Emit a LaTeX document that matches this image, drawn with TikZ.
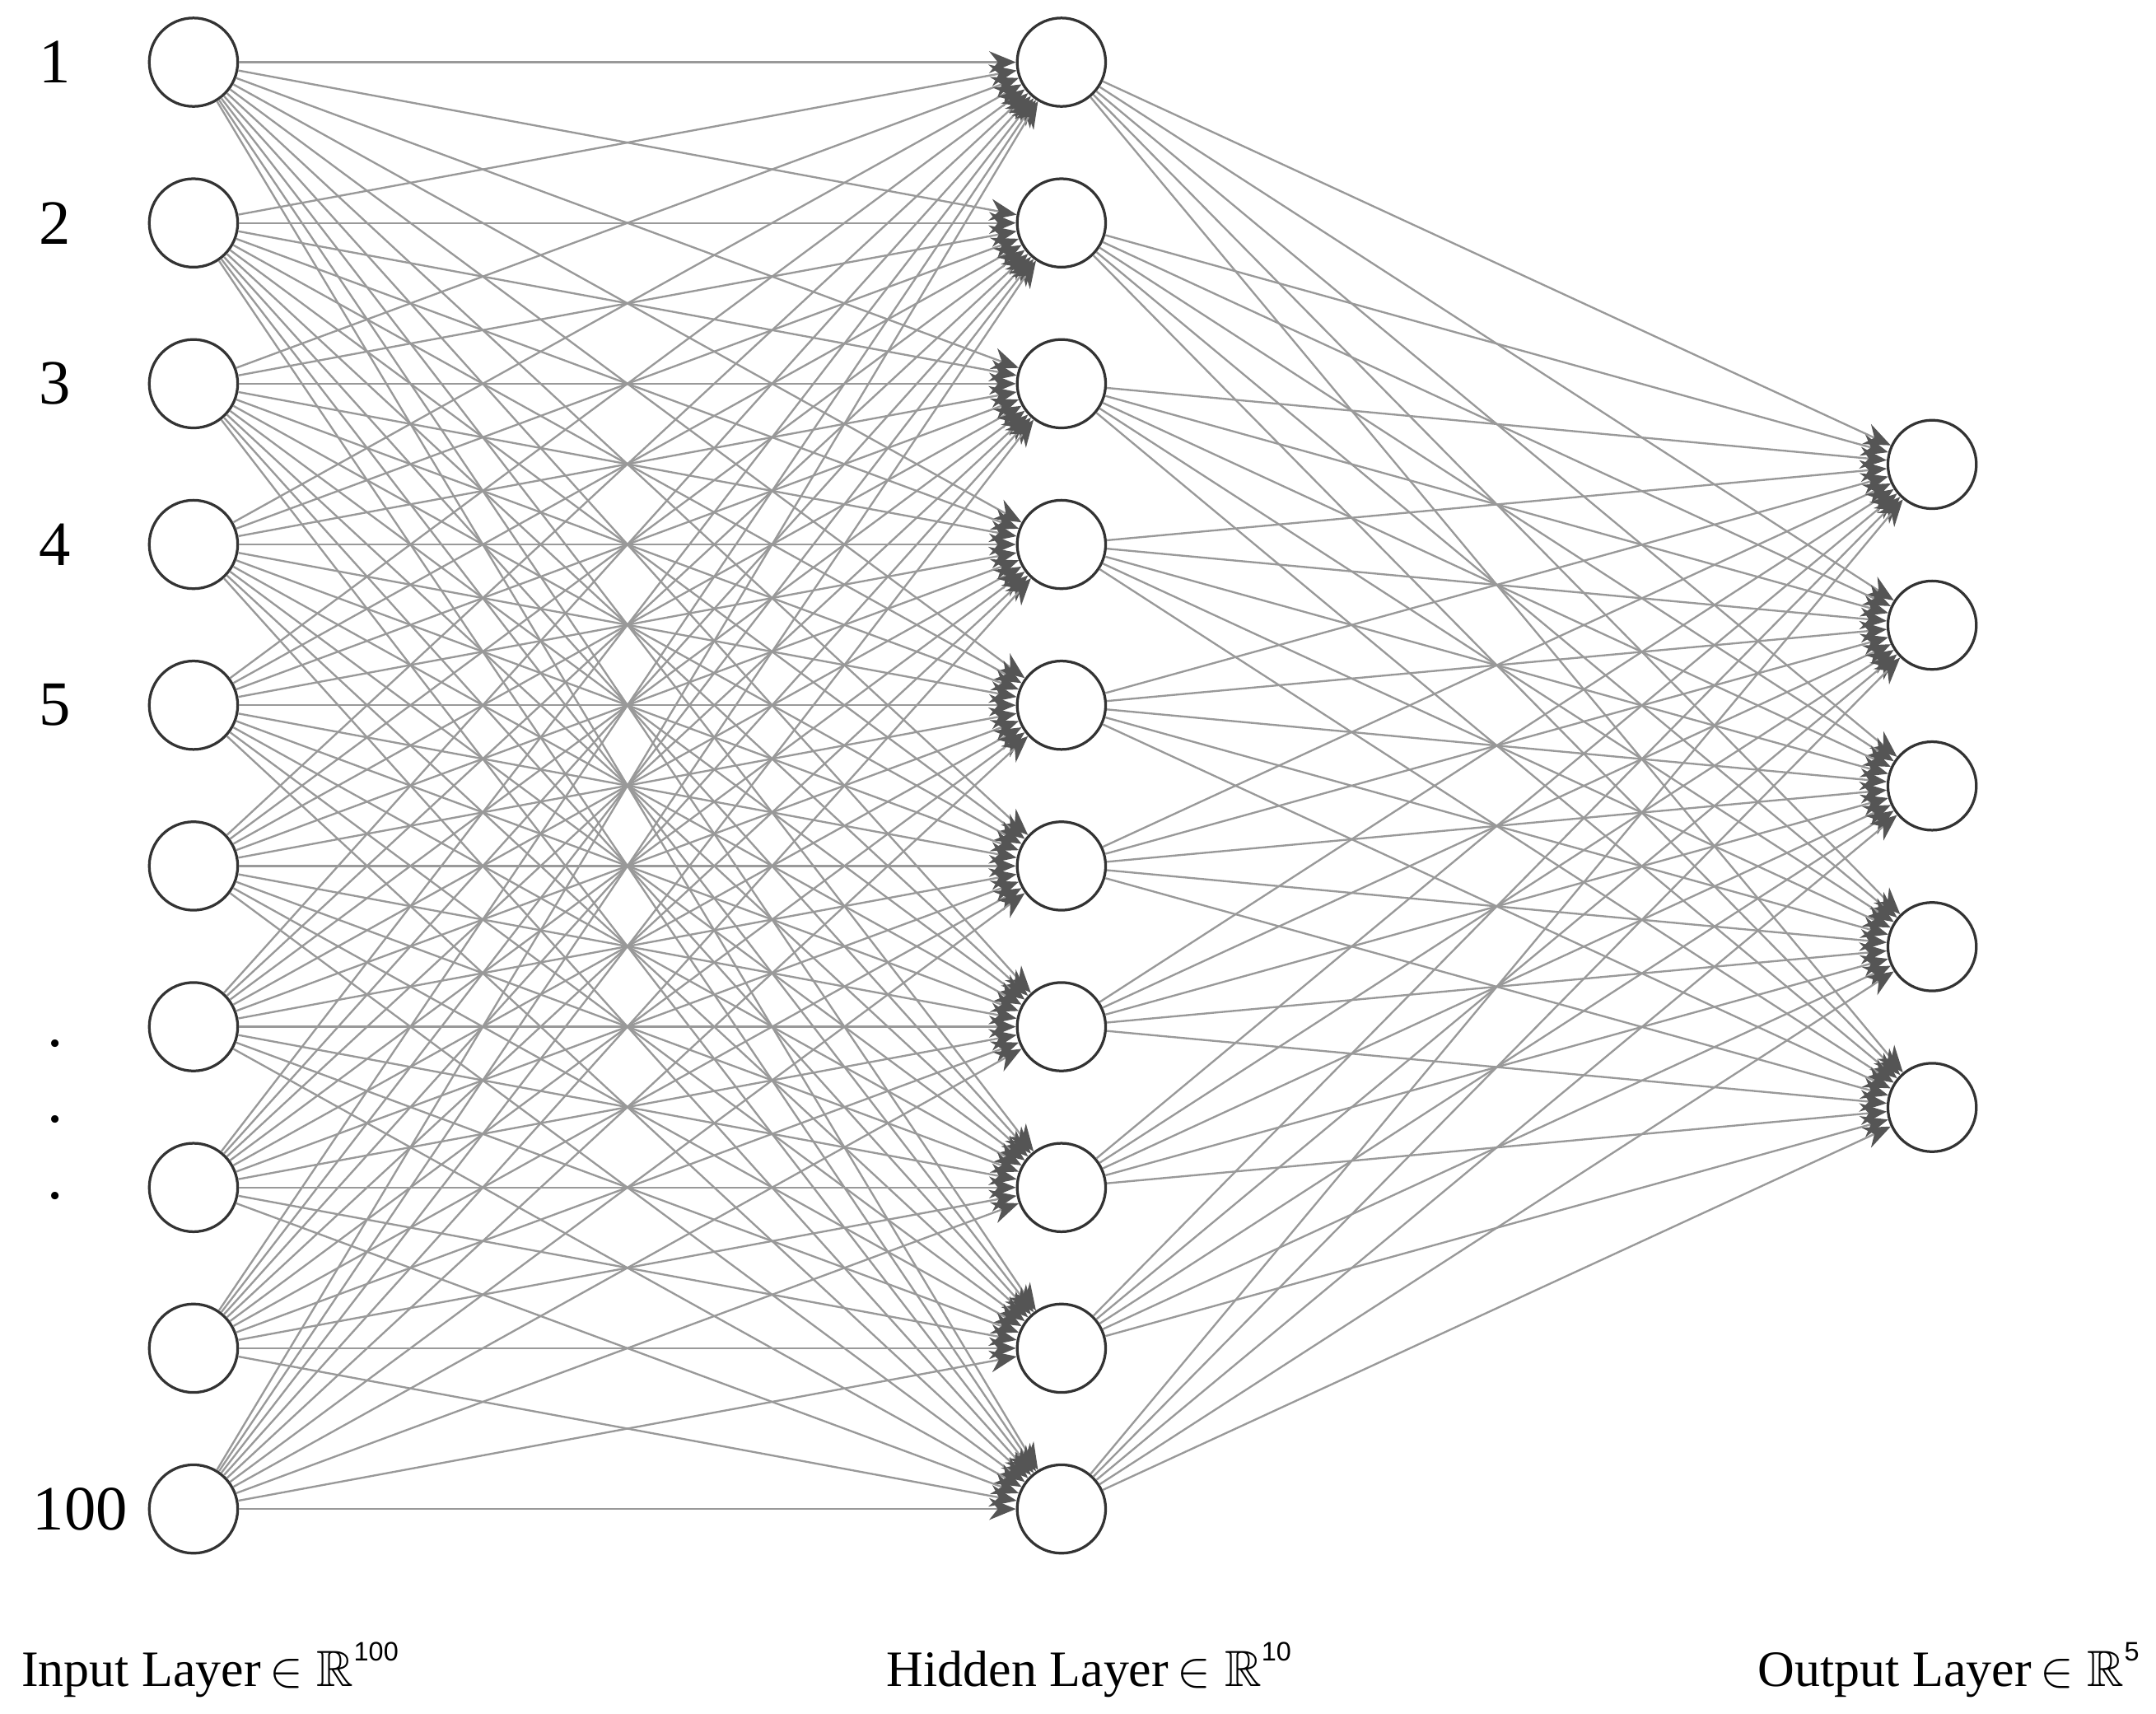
\documentclass[tikz,border=0pt]{standalone}
\usepackage{amssymb}
\usepackage{fontspec}
\setmainfont{Liberation Serif}
\newfontfamily\supfont{Liberation Sans}
\usetikzlibrary{arrows.meta}
\definecolor{edgegray}{HTML}{999999}
\definecolor{tipgray}{HTML}{555555}
\definecolor{ringgray}{HTML}{333333}
\newcommand{\dimsup}[1]{\raisebox{1.1ex}{\fontsize{11}{12}\selectfont\supfont #1}}
\begin{document}
\begin{tikzpicture}[x=0.02cm,y=-0.02cm,
  neuron/.style = {draw=ringgray, circle, fill=white, line width=1.1pt, minimum size=1.28cm, inner sep=0pt},
  link/.style = {draw=edgegray, line width=0.8pt, -{Stealth[length=11pt,width=9pt,color=tipgray]}},
  lab/.style = {font=\fontsize{26}{30}\selectfont},
  title/.style = {font=\fontsize{21}{25}\selectfont}]
    \useasboundingbox (0,0) rectangle (1560,1240);

    % layers
    \foreach \i in {1,...,10} {
        \node[neuron] (in\i) at (140,{45+116.3*(\i-1)}) {};
        \node[neuron] (hid\i) at (768,{45+116.3*(\i-1)}) {};
    }
    \foreach \k in {1,...,5}
        \node[neuron] (out\k) at (1398,{336+116.3*(\k-1)}) {};

    % connections
    \foreach \i in {1,...,10}
        \foreach \j in {1,...,10}
            \draw[link] (in\i) -- (hid\j);
    \foreach \j in {1,...,10}
        \foreach \k in {1,...,5}
            \draw[link] (hid\j) -- (out\k);

    % labels
    \foreach \i in {1,...,5}
        \node[lab] (n\i) at (40,{45+116.3*(\i-1)}) {\i};
    \node[lab] (d1) at (40,755) {.};
    \node[lab] (d2) at (40,810) {.};
    \node[lab] (d3) at (40,865) {.};
    \node[lab] (n100) at (58,1092) {100};

    \node[title] (tin) at (152,1208) {Input Layer\,$\in\mathbb{R}$\dimsup{100}};
    \node[title] (thid) at (788,1208) {Hidden Layer\,$\in\mathbb{R}$\dimsup{10}};
    \node[title] (tout) at (1410,1208) {Output Layer\,$\in\mathbb{R}$\dimsup{5}};
\end{tikzpicture}
\end{document}
